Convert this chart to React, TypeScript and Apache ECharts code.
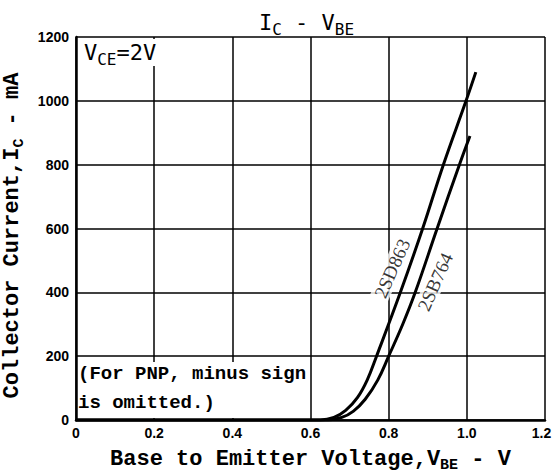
import React, { useEffect, useRef } from 'react';
import * as echarts from 'echarts';

// Axis ticks
const xTicks = [0, 0.2, 0.4, 0.6, 0.8, 1.0, 1.2];
const yTicks = [0, 200, 400, 600, 800, 1000, 1200];

// 2SD863 curve (V_BE in V, I_C in mA)
const vbe2SD863 = [0, 0.625, 0.66, 0.69, 0.72, 0.745, 0.769, 0.83, 0.887, 0.94, 0.998, 1.023];
const ic2SD863 = [0, 0, 8, 30, 70, 125, 200, 400, 600, 800, 1000, 1090];

// 2SB764 curve
const vbe2SB764 = [0, 0.645, 0.68, 0.71, 0.74, 0.772, 0.8, 0.836, 0.868, 0.924, 0.981, 1.008];
const ic2SB764 = [0, 0, 8, 28, 65, 125, 200, 300, 400, 600, 800, 890];

// Curve labels and where they sit
const curveNames = ['2SD863', '2SB764'];
const labelVbe = [0.809, 0.919];
const labelIc = [475, 433];

const MONO_BOLD = "'Liberation Mono', 'DejaVu Sans Mono', monospace";
const MONO_THIN = "'DejaVu Sans Mono', 'Liberation Mono', monospace";
const TICK_FONT = "'Liberation Sans', Arial, sans-serif";

export default function App() {
  const ref = useRef<HTMLDivElement>(null);

  useEffect(() => {
    if (!ref.current) return;
    const chart = echarts.init(ref.current, undefined, { renderer: 'svg' });

    const axisNameRich = {
      m: { fontFamily: MONO_BOLD, fontSize: 22, fontWeight: 'bold', color: '#000', lineHeight: 28, verticalAlign: 'middle' },
      s: { fontFamily: MONO_BOLD, fontSize: 15, fontWeight: 'bold', color: '#000', verticalAlign: 'bottom' },
    };
    const thinRich = {
      m: { fontFamily: MONO_THIN, fontSize: 22, fontWeight: 'normal', color: '#000', lineHeight: 30, verticalAlign: 'middle' },
      s: { fontFamily: MONO_THIN, fontSize: 16, fontWeight: 'normal', color: '#000', verticalAlign: 'bottom' },
    };

    const labelStyle = {
      margin: 6,
      fontSize: 14,
      fontWeight: 'bold',
      color: '#000',
      fontFamily: TICK_FONT,
    };

    const lastX = xTicks[xTicks.length - 1];

    chart.setOption({
      animation: false,
      backgroundColor: '#fff',
      title: {
        text: '{m|I}{s|C}{m| - V}{s|BE}',
        left: 259,
        top: 7,
        padding: 0,
        textStyle: { fontWeight: 'normal', rich: thinRich },
      },
      grid: { left: 76, right: 8, top: 37, bottom: 53, outerBoundsMode: 'none', containLabel: false },
      xAxis: {
        type: 'value',
        min: xTicks[0],
        max: lastX,
        interval: 0.2,
        axisLine: { show: true, lineStyle: { color: '#000', width: 2.5 } },
        axisTick: { show: false },
        splitLine: { show: true, lineStyle: { color: '#000', width: 1.5 } },
        axisLabel: {
          ...labelStyle,
          formatter: (v: number) =>
            v === 0 ? '0' : Math.abs(v - lastX) < 1e-9 ? '{r|' + v.toFixed(1) + '}' : v.toFixed(1),
          rich: {
            r: { fontSize: 14, fontWeight: 'bold', color: '#000', fontFamily: TICK_FONT, padding: [0, 7, 0, 0] },
          },
        },
        name: '{m|Base to Emitter Voltage,V}{s|BE}{m| - V}',
        nameLocation: 'middle',
        nameGap: 25,
        nameTextStyle: { rich: axisNameRich },
      },
      yAxis: {
        type: 'value',
        min: yTicks[0],
        max: yTicks[yTicks.length - 1],
        interval: 200,
        axisLine: { show: true, lineStyle: { color: '#000', width: 2.5 } },
        axisTick: { show: false },
        splitLine: { show: true, lineStyle: { color: '#000', width: 1.5 } },
        axisLabel: { ...labelStyle, margin: 7, formatter: (v: number) => String(v) },
        name: '{m|Collector Current,I}{s|C}{m| - mA}',
        nameLocation: 'middle',
        nameGap: 42,
        nameTextStyle: { rich: axisNameRich, padding: [0, 14, 0, 0] },
      },
      series: [
        {
          type: 'line',
          name: '2SD863',
          data: vbe2SD863.map((v, i) => [v, ic2SD863[i]]),
          showSymbol: false,
          smooth: 0.4,
          lineStyle: { color: '#000', width: 3 },
          z: 5,
        },
        {
          type: 'line',
          name: '2SB764',
          data: vbe2SB764.map((v, i) => [v, ic2SB764[i]]),
          showSymbol: false,
          smooth: 0.4,
          lineStyle: { color: '#000', width: 3 },
          z: 5,
        },
        {
          type: 'scatter',
          data: curveNames.map((n, i) => ({ name: n, value: [labelVbe[i], labelIc[i]] })),
          symbolSize: 1,
          itemStyle: { color: 'transparent' },
          z: 6,
          label: {
            show: true,
            position: 'inside',
            formatter: '{b}',
            rotate: 66,
            fontFamily: "'Liberation Serif', 'DejaVu Serif', serif",
            fontSize: 19,
            color: '#000',
            backgroundColor: '#fff',
            padding: [0, 2],
          },
        },
      ],
      graphic: [
        {
          type: 'rect',
          z: 100,
          shape: { x: 78, y: 39, width: 84, height: 27 },
          style: { fill: '#fff' },
        },
        {
          type: 'text',
          z: 101,
          x: 84,
          y: 37,
          style: {
            text: '{m|V}{s|CE}{m|=2V}',
            rich: thinRich,
            verticalAlign: 'top',
          },
        },
        {
          type: 'rect',
          z: 100,
          shape: { x: 78, y: 362, width: 230, height: 56 },
          style: { fill: '#fff' },
        },
        {
          type: 'text',
          z: 101,
          x: 78,
          y: 359,
          style: {
            text: '(For PNP, minus sign\nis omitted.)',
            font: `bold 19px ${MONO_BOLD}`,
            lineHeight: 29,
            fill: '#000',
            verticalAlign: 'top',
          },
        },
      ],
    });

    return () => chart.dispose();
  }, []);

  return (
    <div
      ref={ref}
      style={{ position: 'fixed', left: 0, top: 0, width: 553, height: 473, background: '#fff' }}
    />
  );
}
